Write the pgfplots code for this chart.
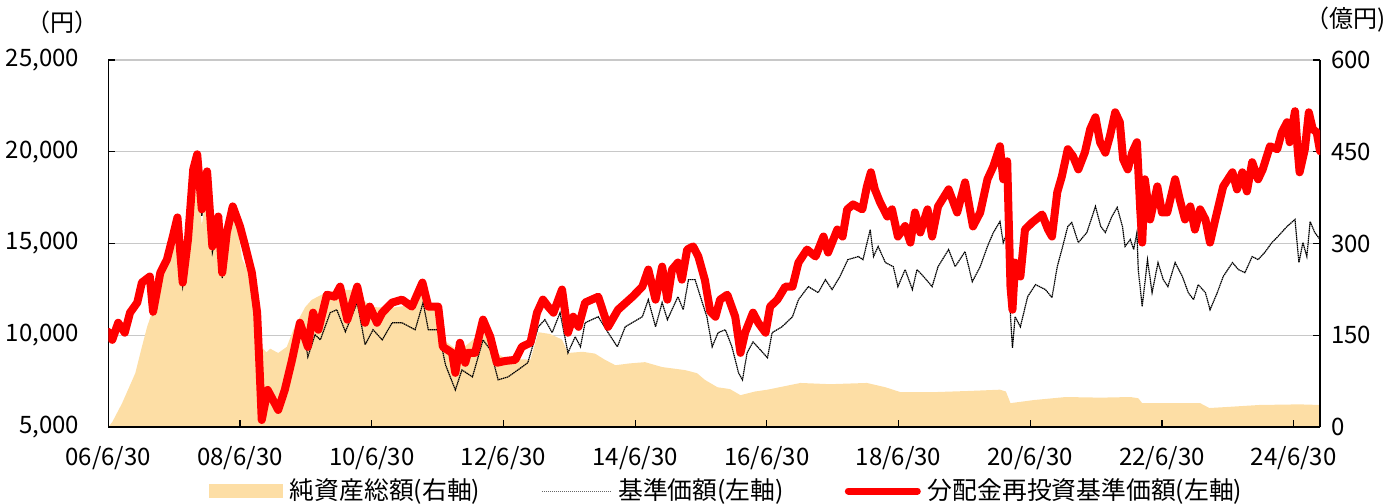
\documentclass[border=0pt]{standalone}
\usepackage{fontspec}
\setmainfont{Noto Sans CJK JP}
\usepackage{pgfplots}
\pgfplotsset{compat=1.18}
\definecolor{areac}{RGB}{253,222,165}
\definecolor{redc}{RGB}{255,0,0}
\definecolor{gridc}{RGB}{200,200,200}
\pgfplotsset{base/.style={scale only axis, width=605.85pt, height=183.5pt,
  xmin=2006.5, xmax=2024.9, scaled y ticks=false, scaled x ticks=false}}
\begin{document}
\begin{tikzpicture}[font=\fontsize{12}{14}\selectfont]
% grid layer
\begin{axis}[base, ymin=0, ymax=600, ytick={150,300,450,600}, xtick=\empty,
  yticklabels={}, ymajorgrids, grid style={color=gridc, line width=0.7pt},
  axis line style={draw=none}, major tick length=0pt]
\end{axis}
% net assets (right axis)
\begin{axis}[base, name=ra, ymin=0, ymax=600, axis on top,
  axis x line*=bottom, axis y line*=right,
  axis line style={black, line width=0.6pt, -},
  xtick={2006.5,2008.5,2010.5,2012.5,2014.5,2016.5,2018.5,2020.5,2022.5,2024.5},
  xticklabels={06/6/30,08/6/30,10/6/30,12/6/30,14/6/30,16/6/30,18/6/30,20/6/30,22/6/30,24/6/30},
  ytick={0,150,300,450,600}, yticklabels={0,150,300,450,600},
  tick align=inside, major tick length=3.5pt, tick style={black, line width=0.6pt},
  xticklabel shift=6pt, yticklabel shift=2pt]
\addplot[fill=areac, draw=none] coordinates {
(2006.50,0) (2006.56,8) (2006.71,39) (2006.91,88) (2007.01,131) (2007.09,164)
(2007.16,186) (2007.25,224) (2007.36,255) (2007.47,290) (2007.59,306) (2007.65,300)
(2007.68,235) (2007.74,340) (2007.82,380) (2007.86,393) (2007.92,330) (2008.00,388)
(2008.08,295) (2008.17,327) (2008.23,250) (2008.32,320) (2008.39,355) (2008.47,320)
(2008.53,275) (2008.62,255) (2008.68,230) (2008.74,190) (2008.77,145) (2008.83,131)
(2008.90,122) (2008.96,128) (2009.08,121) (2009.21,131) (2009.31,159) (2009.41,180)
(2009.49,196) (2009.59,208) (2009.79,219) (2009.99,224) (2010.25,224) (2010.40,205)
(2010.51,196) (2010.81,195) (2011.01,198) (2011.27,215) (2011.51,188) (2011.62,140)
(2011.77,128) (2011.92,132) (2012.12,150) (2012.23,152) (2012.33,125) (2012.53,112)
(2012.91,110) (2013.03,155) (2013.21,152) (2013.39,143) (2013.48,121) (2013.70,123)
(2013.89,120) (2014.04,110) (2014.20,101) (2014.42,104) (2014.65,106) (2014.91,98)
(2015.26,93) (2015.44,88) (2015.56,77) (2015.75,65) (2015.94,62) (2016.10,52)
(2016.32,58) (2016.51,61) (2017.01,72) (2017.46,70) (2018.02,72) (2018.30,65)
(2018.53,57) (2019.03,57) (2019.59,59) (2020.04,61) (2020.13,58) (2020.20,39)
(2020.55,44) (2021.04,49) (2021.57,48) (2022.02,49) (2022.14,47) (2022.20,39)
(2023.08,39) (2023.22,31) (2023.53,33) (2023.98,36) (2024.59,37) (2024.90,36)
} \closedcycle;
\end{axis}
% NAV lines (left axis)
\begin{axis}[base, name=la, ymin=5000, ymax=25000,
  axis x line=none, axis y line*=left,
  axis line style={black, line width=0.6pt, -},
  ytick={5000,10000,15000,20000,25000},
  yticklabels={{5,000},{10,000},{15,000},{20,000},{25,000}},
  tick align=inside, major tick length=3.5pt, tick style={black, line width=0.6pt},
  yticklabel shift=11pt,
  legend columns=3,
  legend style={draw=none, fill=none, at={(0.5,0)}, anchor=center,
    xshift=7.5pt, yshift=-32pt, inner sep=0pt,
    font=\fontsize{12.4}{14}\selectfont,
    /tikz/every even column/.append style={column sep=27pt},
    nodes={inner sep=3.5pt}},
  ]
\addlegendimage{legend image code/.code={\fill[areac] (0pt,-3.3pt) rectangle (36.5pt,3.3pt);}}
\addlegendentry{純資産総額(右軸)}
\addplot[black, line width=0.6pt, dash pattern=on 0.7pt off 0.3pt,
  legend image code/.code={\draw[black!60, line width=0.5pt, dash pattern=on 0.6pt off 0.4pt] (0pt,0pt) -- (34.5pt,0pt);}]
 coordinates {
(2006.50,10190) (2006.56,9750) (2006.65,10680) (2006.75,10140) (2006.83,11230)
(2006.94,11780) (2007.01,12870) (2007.13,13150) (2007.18,11250) (2007.29,13350)
(2007.39,14000) (2007.48,15200) (2007.55,16200) (2007.63,12700) (2007.71,15000)
(2007.79,18700) (2007.85,19400) (2007.92,16500) (2008.00,18500) (2008.08,14500)
(2008.17,16000) (2008.23,13100) (2008.30,15200) (2008.39,16500) (2008.50,15500)
(2008.58,14400) (2008.68,13000) (2008.76,10900) (2008.80,7700) (2008.83,5200)
(2008.92,6800) (2009.00,6250) (2009.08,5750) (2009.18,6800) (2009.29,8300)
(2009.41,10000) (2009.49,9700) (2009.53,8820) (2009.64,10030) (2009.72,9750)
(2009.87,11230) (2009.97,11390) (2010.10,10190) (2010.28,11780) (2010.40,9480)
(2010.52,10300) (2010.66,9750) (2010.81,10680) (2010.96,10680) (2011.16,10300)
(2011.28,11780) (2011.36,10300) (2011.51,10300) (2011.62,8390) (2011.77,7020)
(2011.87,8110) (2012.03,7730) (2012.19,9750) (2012.30,9210) (2012.42,7570)
(2012.57,7730) (2012.72,8110) (2012.87,8500) (2013.03,10460) (2013.13,10850)
(2013.24,10140) (2013.36,11230) (2013.48,9040) (2013.59,9920) (2013.67,9370)
(2013.74,10680) (2013.94,11010) (2014.09,10140) (2014.23,9370) (2014.35,10460)
(2014.61,11010) (2014.70,11940) (2014.81,10460) (2014.91,11780) (2014.99,10850)
(2015.15,12100) (2015.23,11390) (2015.31,13030) (2015.41,13030) (2015.52,11780)
(2015.59,11000) (2015.67,9370) (2015.76,10140) (2015.87,10300) (2015.97,9370)
(2016.07,7950) (2016.13,7570) (2016.20,9040) (2016.29,9640) (2016.40,9210)
(2016.51,8770) (2016.58,10140) (2016.73,10460) (2016.89,11010) (2016.98,11940)
(2017.13,12650) (2017.28,12320) (2017.39,13030) (2017.49,12490) (2017.61,13200)
(2017.73,14120) (2017.89,14290) (2017.96,14120) (2018.07,15760) (2018.12,14290)
(2018.19,14840) (2018.30,13960) (2018.42,13740) (2018.49,12650) (2018.60,13580)
(2018.71,12490) (2018.78,13580) (2018.88,13200) (2019.01,12650) (2019.10,13740)
(2019.26,14670) (2019.36,13740) (2019.51,14560) (2019.62,12920) (2019.74,13740)
(2019.85,14840) (2019.94,15600) (2020.04,16200) (2020.09,15050) (2020.15,15600)
(2020.20,11010) (2020.23,9320) (2020.27,11010) (2020.35,10460) (2020.46,12100)
(2020.58,12760) (2020.73,12490) (2020.83,12050) (2020.91,13740) (2020.98,14670)
(2021.07,15930) (2021.13,16150) (2021.23,15050) (2021.36,15600) (2021.49,17020)
(2021.57,15930) (2021.64,15600) (2021.74,16470) (2021.82,16970) (2021.90,15930)
(2021.94,14840) (2022.02,15220) (2022.07,14670) (2022.12,15600) (2022.14,13580)
(2022.20,11560) (2022.28,14120) (2022.35,12320) (2022.44,13960) (2022.52,13030)
(2022.59,12650) (2022.70,13960) (2022.81,13200) (2022.90,12320) (2022.98,11940)
(2023.05,12760) (2023.16,12320) (2023.23,11390) (2023.34,12320) (2023.43,13200)
(2023.57,13960) (2023.66,13580) (2023.76,13410) (2023.87,14290) (2023.96,14120)
(2024.06,14510) (2024.17,15050) (2024.26,15380) (2024.40,15930) (2024.52,16310)
(2024.58,13960) (2024.64,15050) (2024.70,14290) (2024.75,16200) (2024.82,15600)
(2024.90,15220)
};
\addlegendentry{基準価額(左軸)}
\addplot[redc, line width=4pt, line join=round, line cap=round,
  legend image code/.code={\draw[redc, line width=3.5pt] (0pt,0pt) -- (34.5pt,0pt);}]
 coordinates {
(2006.50,10190) (2006.56,9750) (2006.65,10680) (2006.75,10140) (2006.83,11230)
(2006.94,11780) (2007.01,12870) (2007.13,13200) (2007.18,11280) (2007.29,13410)
(2007.39,14120) (2007.48,15380) (2007.55,16420) (2007.63,12870) (2007.71,15220)
(2007.79,19040) (2007.85,19860) (2007.92,16860) (2008.00,18930) (2008.08,14840)
(2008.17,16470) (2008.23,13410) (2008.30,15600) (2008.39,17020) (2008.50,15930)
(2008.58,14840) (2008.68,13410) (2008.76,11230) (2008.80,7950) (2008.83,5380)
(2008.92,7020) (2009.00,6480) (2009.08,5930) (2009.18,7020) (2009.29,8660)
(2009.41,10680) (2009.53,9370) (2009.61,11230) (2009.69,10300) (2009.82,12210)
(2009.94,12100) (2010.02,12650) (2010.13,10850) (2010.28,12650) (2010.40,10680)
(2010.47,11560) (2010.58,10680) (2010.66,11230) (2010.81,11780) (2010.96,11940)
(2011.11,11560) (2011.27,12870) (2011.36,11560) (2011.51,11560) (2011.58,9370)
(2011.72,9040) (2011.77,7950) (2011.84,9590) (2011.92,8500) (2011.96,9040)
(2012.07,9040) (2012.19,10850) (2012.30,9920) (2012.40,8500) (2012.53,8600)
(2012.68,8660) (2012.78,9370) (2012.91,9590) (2013.01,11230) (2013.10,11940)
(2013.18,11560) (2013.26,11230) (2013.39,12490) (2013.48,10140) (2013.56,11010)
(2013.64,10460) (2013.74,11780) (2013.94,12100) (2014.09,10460) (2014.24,11390)
(2014.46,12100) (2014.61,12650) (2014.70,13580) (2014.81,11940) (2014.91,13740)
(2014.99,11940) (2015.06,13580) (2015.15,13960) (2015.21,13030) (2015.29,14670)
(2015.38,14840) (2015.46,14290) (2015.56,13000) (2015.64,11300) (2015.72,11010)
(2015.79,11940) (2015.90,12210) (2016.02,11010) (2016.10,9040) (2016.17,10140)
(2016.29,11230) (2016.37,10680) (2016.48,10140) (2016.55,11560) (2016.66,11940)
(2016.78,12650) (2016.89,12650) (2016.98,13960) (2017.11,14670) (2017.24,14290)
(2017.36,15380) (2017.43,14510) (2017.57,15760) (2017.65,15380) (2017.72,16860)
(2017.81,17130) (2017.95,16860) (2018.02,18110) (2018.08,18880) (2018.14,17950)
(2018.22,17240) (2018.33,16470) (2018.40,16860) (2018.49,15380) (2018.60,15950)
(2018.68,15050) (2018.75,16690) (2018.83,15600) (2018.94,16860) (2019.01,15380)
(2019.10,17020) (2019.26,17950) (2019.39,16690) (2019.51,18330) (2019.63,15930)
(2019.74,16690) (2019.85,18500) (2019.94,19210) (2020.04,20300) (2020.09,18500)
(2020.15,19480) (2020.17,16690) (2020.20,12650) (2020.23,11390) (2020.27,13960)
(2020.35,13200) (2020.42,15760) (2020.53,16150) (2020.68,16580) (2020.77,15760)
(2020.83,15380) (2020.91,17790) (2020.98,18660) (2021.07,20140) (2021.15,19750)
(2021.23,19040) (2021.33,19970) (2021.41,21230) (2021.49,21880) (2021.56,20520)
(2021.64,19950) (2021.71,20850) (2021.79,22150) (2021.86,21610) (2021.91,19590)
(2021.98,19040) (2022.05,19970) (2022.12,20520) (2022.17,16860) (2022.20,15050)
(2022.24,18500) (2022.32,16310) (2022.43,18110) (2022.50,16690) (2022.58,16690)
(2022.70,18500) (2022.77,17400) (2022.85,16310) (2022.93,17020) (2023.00,15760)
(2023.08,16860) (2023.16,16310) (2023.23,15050) (2023.31,16310) (2023.43,18110)
(2023.57,18880) (2023.64,17950) (2023.72,18880) (2023.79,17840) (2023.87,19430)
(2023.96,18500) (2024.03,19040) (2024.14,20300) (2024.25,20140) (2024.32,21060)
(2024.40,21610) (2024.44,20520) (2024.52,22210) (2024.56,20140) (2024.59,18880)
(2024.67,20140) (2024.73,22150) (2024.79,21230) (2024.85,21060) (2024.90,20030)
};
\addlegendentry{分配金再投資基準価額(左軸)}
\end{axis}
\node at ([xshift=-23pt,yshift=19pt]la.north west) {（円）};
\node[anchor=east, inner sep=0pt] at ([xshift=33pt,yshift=20pt]la.north east) {（億円)};
\pgfresetboundingbox
\path[use as bounding box] ([xshift=-54.15pt,yshift=-38pt]la.south west) rectangle ([xshift=35.5pt,yshift=30pt]la.north east);
\end{tikzpicture}
\end{document}
